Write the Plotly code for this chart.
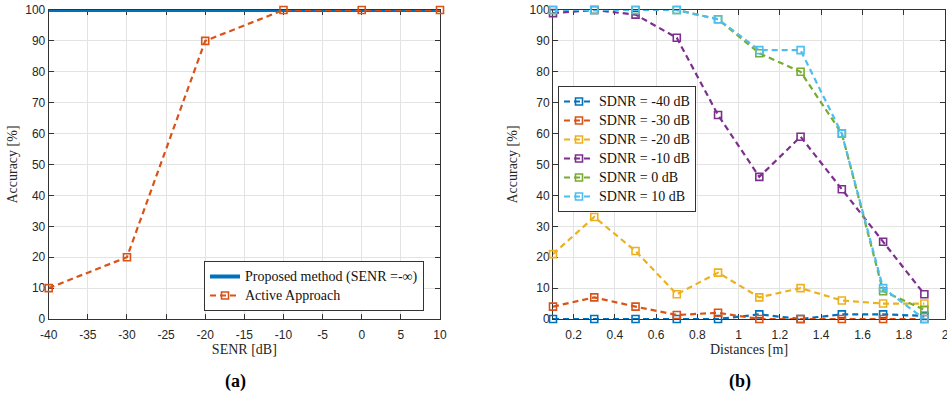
import plotly.graph_objects as go

# ---- data: panel (a) accuracy vs SENR ----
senr = [-40, -30, -20, -10, 0, 10]
proposed = [100, 100, 100, 100, 100, 100]
active = [10, 20, 90, 100, 100, 100]
senr_ticks = [-40, -35, -30, -25, -20, -15, -10, -5, 0, 5, 10]

# ---- data: panel (b) accuracy vs distance for several SDNR levels ----
dist = [0.1, 0.3, 0.5, 0.7, 0.9, 1.1, 1.3, 1.5, 1.7, 1.9]
sdnr_m40 = [0, 0, 0, 0, 0, 1.5, 0, 1.5, 1.5, 1]
sdnr_m30 = [4, 7, 4, 1.3, 2, 0, 0, 0, 0, 0]
sdnr_m20 = [21, 33, 22, 8, 15, 7, 10, 6, 5, 5]
sdnr_m10 = [99, 100, 98.5, 91, 66, 46, 59, 42, 25, 8]
sdnr_0 = [100, 100, 100, 100, 97, 86, 80, 60, 9, 3]
sdnr_10 = [100, 100, 100, 100, 97, 87, 87, 60, 10, 0]
dist_ticks = [0.2, 0.4, 0.6, 0.8, 1, 1.2, 1.4, 1.6, 1.8, 2]

sdnr_names = ["SDNR = -40 dB", "SDNR = -30 dB", "SDNR = -20 dB",
              "SDNR = -10 dB", "SDNR = 0 dB", "SDNR = 10 dB"]
sdnr_series = [sdnr_m40, sdnr_m30, sdnr_m20, sdnr_m10, sdnr_0, sdnr_10]
colors = ["#0072BD", "#D95319", "#EDB120", "#7E2F8E", "#77AC30", "#4DBEEE"]

W, H = 947, 399
AX_COLOR = "#333333"
GRID = "#e3e3e3"
TICK_FONT = dict(family="Liberation Sans, Arial", size=12, color="#262626")
SERIF = "Liberation Serif, Times New Roman"
DASH = "6px,4px"


def px_x(p):
    return p / W


def px_y(p):
    return 1 - p / H


def legend_label(text):
    # legend rows are sized from the legend font; the label itself is drawn larger
    return '<span style="font-size:14px">' + text + "</span>"


def tick_text(v):
    # plain hyphen for negatives, no trailing ".0"
    return ("%g" % v)


fig = go.Figure()

fig.add_trace(go.Scatter(
    x=senr, y=proposed, mode="lines", name=legend_label("Proposed method (SENR =-\u221e)"),
    line=dict(color=colors[0], width=4), xaxis="x", yaxis="y", legend="legend",
))
fig.add_trace(go.Scatter(
    x=senr, y=active, mode="lines+markers", name=legend_label("Active Approach"),
    line=dict(color=colors[1], width=2.2, dash=DASH),
    marker=dict(symbol="square-open", size=7, line=dict(width=1.6, color=colors[1])),
    cliponaxis=False, xaxis="x", yaxis="y", legend="legend",
))

for name, vals, c in zip(sdnr_names, sdnr_series, colors):
    fig.add_trace(go.Scatter(
        x=dist, y=vals, mode="lines+markers", name=legend_label(name),
        line=dict(color=c, width=2.2, dash=DASH),
        marker=dict(symbol="square-open", size=7, line=dict(width=1.6, color=c)),
        cliponaxis=False, xaxis="x2", yaxis="y2", legend="legend2",
    ))

axis_common = dict(
    showline=True, linecolor=AX_COLOR, linewidth=1, mirror="ticks",
    ticks="inside", ticklen=5, tickcolor=AX_COLOR, tickwidth=1,
    showgrid=True, gridcolor=GRID, gridwidth=1, zeroline=False,
    tickfont=TICK_FONT, layer="below traces", automargin=False,
    ticklabeloverflow="allow",
)
title_font = dict(family=SERIF, size=14, color="#262626")

y_dom = [px_y(319), px_y(10)]
acc_ticks = list(range(0, 101, 10))

fig.update_layout(
    template="none",
    width=W, height=H, margin=dict(l=0, r=0, t=0, b=0, autoexpand=False),
    paper_bgcolor="white", plot_bgcolor="white",
    xaxis=dict(axis_common, domain=[px_x(48.7), px_x(440)], range=[-40, 10],
               tickmode="array", tickvals=senr_ticks,
               ticktext=[tick_text(v) for v in senr_ticks],
               ticklabelstandoff=5,
               title=dict(text="SENR [dB]", font=title_font, standoff=2),
               anchor="y"),
    yaxis=dict(axis_common, domain=y_dom, range=[0, 100],
               tickmode="array", tickvals=acc_ticks,
               title=dict(text="Accuracy [%]", font=title_font, standoff=4),
               anchor="x"),
    xaxis2=dict(axis_common, domain=[px_x(553), px_x(945)], range=[0.1, 2],
                tickmode="array", tickvals=dist_ticks,
                ticktext=[tick_text(v) for v in dist_ticks],
                ticklabelstandoff=5,
                title=dict(text="Distances [m]", font=title_font, standoff=2),
                anchor="y2"),
    yaxis2=dict(axis_common, domain=y_dom, range=[0, 100],
                tickmode="array", tickvals=acc_ticks,
                title=dict(text="Accuracy [%]", font=title_font, standoff=8),
                anchor="x2"),
    legend=dict(
        x=px_x(424), y=px_y(311), xanchor="right", yanchor="bottom",
        bgcolor="white", bordercolor=AX_COLOR, borderwidth=1,
        font=dict(family=SERIF, size=12, color="#111111"),
        tracegroupgap=0, itemwidth=30,
    ),
    legend2=dict(
        x=px_x(558), y=px_y(86), xanchor="left", yanchor="top",
        bgcolor="white", bordercolor=AX_COLOR, borderwidth=1,
        font=dict(family=SERIF, size=12, color="#111111"),
        tracegroupgap=0, itemwidth=30,
    ),
    annotations=[
        dict(text="<b>(a)</b>", x=px_x(235), y=px_y(381), xref="paper", yref="paper",
             xanchor="center", yanchor="middle", showarrow=False,
             font=dict(family=SERIF, size=18, color="black")),
        dict(text="<b>(b)</b>", x=px_x(740), y=px_y(381), xref="paper", yref="paper",
             xanchor="center", yanchor="middle", showarrow=False,
             font=dict(family=SERIF, size=18, color="black")),
    ],
    showlegend=True,
)

fig.write_html("out.html")
